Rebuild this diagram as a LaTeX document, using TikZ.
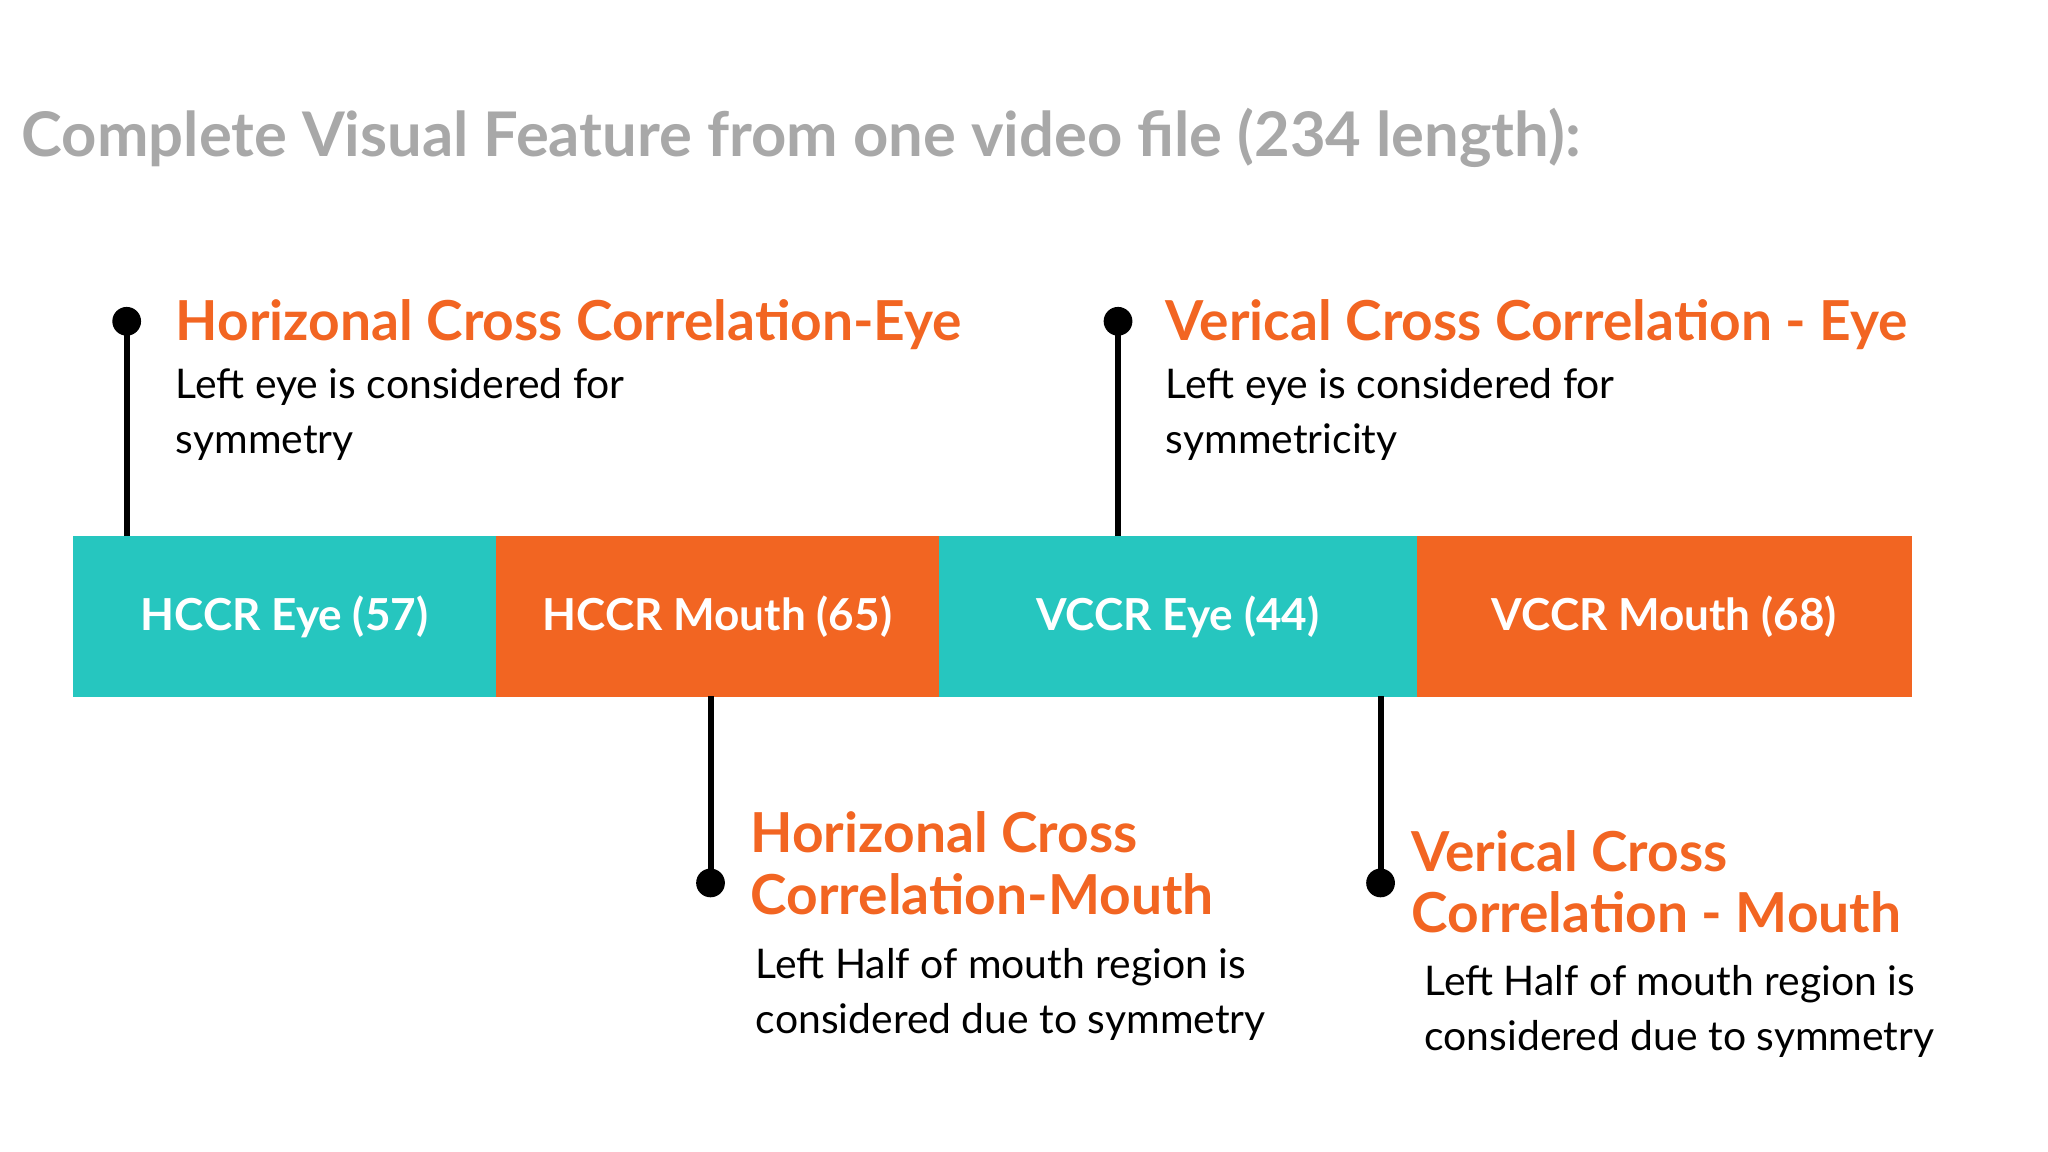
\documentclass[tikz,border=0pt]{standalone}
\usepackage{fontspec}
\setmainfont{Lato}
\definecolor{teal}{HTML}{26C6BF}
\definecolor{org}{HTML}{F26522}
\definecolor{ttl}{HTML}{A8A8A8}
\begin{document}
\begin{tikzpicture}[x=0.01cm,y=-0.01cm,
  hd/.style={anchor=base west,inner sep=0,text=org,font=\fontsize{12.0}{14}\selectfont\bfseries},
  bd/.style={anchor=base west,inner sep=0,font=\fontsize{8.9}{11}\selectfont},
  bar/.style={draw=none,anchor=north west,inner sep=0,minimum height=1.23cm,text=white,font=\fontsize{9.6}{11}\selectfont\bfseries},
  dot/.style={circle,fill=black,inner sep=0,minimum size=0.22cm},
  ln/.style={line width=1.3pt}]
\useasboundingbox (0,0) rectangle (1568,882);
\node[anchor=base west,inner sep=0,text=ttl,font=\fontsize{13.4}{15}\selectfont\bfseries] (t) at (16,120) {Complete Visual Feature from one video file (234 length):};
\node[bar,fill=teal,minimum width=3.24cm] (b1) at (55,410) {HCCR Eye (57)};
\node[bar,fill=org,minimum width=3.39cm] (b2) at (379,410) {HCCR Mouth (65)};
\node[bar,fill=teal,minimum width=3.66cm] (b3) at (718,410) {VCCR Eye (44)};
\node[bar,fill=org,minimum width=3.79cm] (b4) at (1084,410) {VCCR Mouth (68)};
\node[dot] (d1) at (97,246) {};
\node[dot] (d2) at (856,246) {};
\node[dot] (d3) at (544,676) {};
\node[dot] (d4) at (1057,676) {};
\coordinate (c1) at (97,410); \coordinate (c2) at (856,410);
\coordinate (c3) at (544,533); \coordinate (c4) at (1057,533);
\draw[ln] (d1.center) -- (c1); \draw[ln] (d2.center) -- (c2);
\draw[ln] (c3) -- (d3.center); \draw[ln] (c4) -- (d4.center);
\node[hd] (h1) at (134,261) {Horizonal Cross Correlation-Eye};
\node[bd] (h1a) at (134,305) {Left eye is considered for};
\node[bd] (h1b) at (134,347) {symmetry};
\node[hd] (h2) at (892,261) {Verical Cross Correlation - Eye};
\node[bd] (h2a) at (892,305) {Left eye is considered for};
\node[bd] (h2b) at (892,347) {symmetricity};
\node[hd] (h3) at (574,653) {Horizonal Cross};
\node[hd] (h3b) at (574,700) {Correlation-Mouth};
\node[bd] (h3c) at (578,749) {Left Half of mouth region is};
\node[bd] (h3d) at (578,791) {considered due to symmetry};
\node[hd] (h4) at (1080,667) {Verical Cross};
\node[hd] (h4b) at (1080,714) {Correlation - Mouth};
\node[bd] (h4c) at (1090,762) {Left Half of mouth region is};
\node[bd] (h4d) at (1090,804) {considered due to symmetry};
\end{tikzpicture}
\end{document}
